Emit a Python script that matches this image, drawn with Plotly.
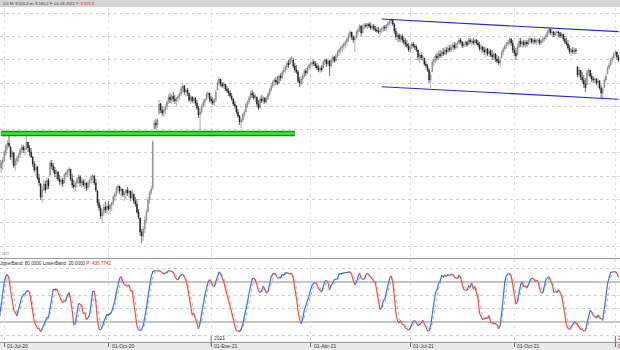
import plotly.graph_objects as go
import pandas as pd

# ---------------- data ----------------
holidays = ['2020-12-25', '2021-01-01', '2021-04-02', '2021-04-05', '2021-12-24', '2021-12-31']
dates = [d.strftime('%Y-%m-%d') for d in pd.bdate_range('2020-06-26', '2022-01-05')
         if d.strftime('%Y-%m-%d') not in holidays]

open_ = [
    7409, 7306, 7371, 7409, 7499, 7590, 7628, 7577, 7448, 7499,
    7345, 7396, 7435, 7474, 7538, 7577, 7538, 7564, 7641, 7564,
    7512, 7448, 7358, 7280, 7319, 7177, 7100, 6933, 7023, 7100,
    7036, 7152, 7216, 7371, 7332, 7280, 7229, 7255, 7165, 7126,
    7152, 7113, 7216, 7242, 7268, 7293, 7165, 7087, 7061, 7113,
    7165, 7190, 7113, 7139, 7087, 7113, 7049, 7113, 7152, 7190,
    7203, 7113, 7010, 6855, 6791, 6688, 6739, 6804, 6765, 6817,
    6778, 6830, 6855, 6933, 6971, 7049, 7074, 7010, 7036, 6958,
    6984, 7023, 6984, 7010, 6920, 6971, 6881, 6843, 6739, 6662,
    6482, 6430, 6521, 6636, 6739, 6894, 6984, 7049, 7821, 7886,
    7860, 8015, 8130, 8053, 8015, 8053, 8092, 8156, 8221, 8182,
    8234, 8195, 8169, 8208, 8234, 8259, 8324, 8362, 8285, 8311,
    8272, 8182, 8221, 8169, 8208, 8143, 8079, 7989, 8027, 8105,
    8156, 8182, 8246, 8272, 8195, 8169, 8143, 8182, 8311, 8401,
    8452, 8388, 8362, 8388, 8324, 8298, 8272, 8234, 8195, 8130,
    8105, 8027, 7976, 7899, 7924, 7989, 8027, 8118, 8156, 8208,
    8272, 8246, 8208, 8221, 8130, 8079, 8195, 8169, 8208, 8156,
    8195, 8259, 8311, 8362, 8414, 8440, 8414, 8401, 8491, 8465,
    8543, 8568, 8607, 8659, 8646, 8710, 8697, 8620, 8568, 8543,
    8427, 8401, 8452, 8491, 8556, 8530, 8594, 8633, 8646, 8671,
    8646, 8620, 8594, 8568, 8594, 8594, 8671, 8697, 8646, 8684,
    8620, 8697, 8736, 8684, 8749, 8800, 8826, 8852, 8878, 8903,
    8929, 8968, 9019, 9058, 8994, 8955, 8981, 9058, 9084, 9135,
    9045, 9122, 9148, 9135, 9161, 9135, 9109, 9135, 9097, 9084,
    9071, 9058, 9084, 9097, 9122, 9109, 9148, 9174, 9200, 9212,
    9161, 9071, 8994, 9019, 8968, 9006, 8955, 8929, 8903, 8878,
    8826, 8865, 8903, 8878, 8865, 8826, 8736, 8762, 8723, 8723,
    8646, 8620, 8568, 8440, 8543, 8671, 8697, 8749, 8723, 8775,
    8749, 8800, 8775, 8826, 8800, 8852, 8826, 8865, 8890, 8852,
    8903, 8916, 8955, 8929, 8878, 8903, 8929, 8890, 8955, 8929,
    8942, 8916, 8955, 8916, 8890, 8839, 8865, 8826, 8800, 8839,
    8775, 8813, 8762, 8736, 8775, 8710, 8684, 8659, 8723, 8800,
    8839, 8878, 8903, 8929, 8968, 8916, 8826, 8787, 8762, 8865,
    8942, 8903, 8929, 8890, 8929, 8903, 8955, 8968, 8929, 8955,
    8929, 8942, 8955, 8916, 8942, 8968, 8981, 9019, 9058, 9097,
    9045, 9058, 9019, 9045, 9058, 9045, 9006, 9032, 8968, 8929,
    8903, 8852, 8800, 8826, 8800, 8826, 8607, 8504, 8568, 8478,
    8440, 8388, 8375, 8543, 8568, 8491, 8452, 8440, 8452, 8401,
    8427, 8337, 8272, 8337, 8440, 8517, 8594, 8633, 8697, 8723,
    8775, 8800, 8736,
]
high = [
    7435, 7409, 7448, 7538, 7615, 7667, 7744, 7590, 7538, 7512,
    7435, 7461, 7499, 7564, 7602, 7602, 7590, 7744, 7641, 7602,
    7564, 7461, 7396, 7358, 7332, 7229, 7113, 7074, 7152, 7139,
    7190, 7177, 7409, 7409, 7371, 7319, 7293, 7268, 7216, 7190,
    7177, 7242, 7268, 7293, 7319, 7293, 7229, 7152, 7139, 7190,
    7229, 7216, 7190, 7165, 7165, 7126, 7139, 7165, 7216, 7229,
    7216, 7165, 7023, 6907, 6830, 6778, 6843, 6868, 6843, 6881,
    6843, 6868, 6958, 6997, 7074, 7100, 7074, 7061, 7036, 7010,
    7036, 7061, 7036, 7010, 7036, 6971, 6933, 6907, 6778, 6675,
    6521, 6559, 6688, 6778, 6933, 7010, 7074, 7667, 7924, 7937,
    7950, 8182, 8143, 8105, 8092, 8130, 8182, 8259, 8272, 8259,
    8285, 8246, 8221, 8259, 8285, 8362, 8388, 8375, 8337, 8337,
    8272, 8246, 8234, 8221, 8221, 8182, 8105, 8079, 8130, 8195,
    8208, 8285, 8298, 8272, 8234, 8221, 8208, 8311, 8440, 8478,
    8452, 8414, 8414, 8388, 8362, 8337, 8311, 8272, 8208, 8169,
    8118, 8066, 7989, 7950, 8015, 8053, 8143, 8182, 8234, 8298,
    8311, 8285, 8259, 8221, 8182, 8234, 8246, 8234, 8221, 8234,
    8285, 8337, 8388, 8440, 8465, 8478, 8491, 8517, 8530, 8568,
    8607, 8633, 8684, 8697, 8736, 8749, 8723, 8659, 8633, 8568,
    8478, 8491, 8517, 8581, 8594, 8620, 8659, 8671, 8697, 8697,
    8684, 8659, 8633, 8620, 8633, 8697, 8723, 8710, 8723, 8697,
    8723, 8762, 8749, 8775, 8826, 8852, 8878, 8903, 8929, 8955,
    8994, 9045, 9084, 9058, 9019, 9006, 9084, 9109, 9161, 9148,
    9161, 9174, 9174, 9174, 9187, 9174, 9161, 9161, 9135, 9122,
    9122, 9109, 9122, 9148, 9148, 9161, 9187, 9225, 9238, 9225,
    9174, 9109, 9058, 9045, 9032, 9032, 8994, 8981, 8955, 8916,
    8903, 8929, 8929, 8903, 8890, 8826, 8787, 8800, 8775, 8723,
    8684, 8646, 8594, 8543, 8697, 8736, 8775, 8787, 8813, 8826,
    8826, 8852, 8865, 8865, 8890, 8890, 8903, 8916, 8929, 8929,
    8942, 8981, 8981, 8942, 8929, 8955, 8942, 8981, 8981, 8968,
    8981, 8981, 8968, 8955, 8929, 8903, 8878, 8865, 8865, 8852,
    8852, 8839, 8826, 8800, 8787, 8762, 8749, 8736, 8826, 8865,
    8903, 8929, 8955, 8994, 8981, 8955, 8878, 8852, 8903, 8981,
    8981, 8955, 8955, 8955, 8955, 8981, 8994, 8981, 8968, 8981,
    8968, 8981, 8981, 8968, 8994, 9006, 9045, 9084, 9122, 9097,
    9084, 9071, 9071, 9084, 9071, 9058, 9058, 9032, 9006, 8981,
    8955, 8890, 8852, 8865, 8852, 8852, 8620, 8607, 8568, 8543,
    8504, 8465, 8568, 8594, 8568, 8530, 8491, 8478, 8465, 8465,
    8440, 8375, 8349, 8465, 8517, 8620, 8659, 8723, 8749, 8800,
    8826, 8800, 8762,
]
low = [
    7255, 7242, 7280, 7383, 7461, 7538, 7564, 7409, 7358, 7306,
    7268, 7345, 7383, 7435, 7499, 7499, 7474, 7538, 7512, 7461,
    7435, 7319, 7255, 7203, 7152, 7074, 6894, 6855, 7010, 6984,
    7023, 7036, 7203, 7293, 7242, 7190, 7165, 7139, 7087, 7074,
    7061, 7113, 7165, 7190, 7203, 7139, 7049, 7036, 7010, 7061,
    7100, 7074, 7049, 7061, 7036, 7010, 7023, 7061, 7100, 7113,
    7087, 6997, 6817, 6752, 6649, 6598, 6688, 6727, 6714, 6752,
    6714, 6752, 6817, 6881, 6946, 6984, 6971, 6946, 6933, 6881,
    6907, 6946, 6920, 6881, 6907, 6843, 6804, 6714, 6649, 6430,
    6340, 6366, 6469, 6598, 6739, 6843, 6958, 7023, 7796, 7808,
    7821, 7989, 8015, 7976, 7963, 8002, 8053, 8130, 8143, 8130,
    8156, 8130, 8105, 8156, 8182, 8234, 8272, 8246, 8221, 8234,
    8156, 8130, 8143, 8130, 8105, 8053, 7950, 7796, 8002, 8079,
    8105, 8182, 8208, 8156, 8130, 8118, 8105, 8156, 8311, 8362,
    8349, 8337, 8324, 8298, 8272, 8234, 8208, 8169, 8105, 8066,
    8002, 7950, 7860, 7821, 7899, 7950, 8027, 8079, 8130, 8182,
    8208, 8182, 8156, 8092, 8053, 8079, 8143, 8130, 8130, 8143,
    8182, 8234, 8285, 8337, 8362, 8375, 8375, 8388, 8427, 8452,
    8504, 8530, 8568, 8594, 8646, 8659, 8594, 8530, 8517, 8401,
    8349, 8362, 8388, 8465, 8491, 8517, 8568, 8581, 8607, 8620,
    8594, 8568, 8543, 8530, 8543, 8594, 8633, 8607, 8620, 8491,
    8594, 8659, 8659, 8671, 8723, 8749, 8775, 8800, 8826, 8852,
    8878, 8929, 8981, 8955, 8916, 8800, 8981, 9006, 9058, 9006,
    9045, 9097, 9109, 9097, 9109, 9084, 9084, 9071, 9058, 9045,
    9032, 9019, 9045, 9058, 9071, 9071, 9109, 9135, 9161, 9135,
    9032, 8955, 8929, 8929, 8929, 8916, 8890, 8865, 8852, 8800,
    8787, 8839, 8852, 8826, 8800, 8697, 8659, 8697, 8684, 8620,
    8594, 8543, 8401, 8337, 8543, 8620, 8659, 8684, 8697, 8723,
    8723, 8749, 8762, 8762, 8787, 8800, 8800, 8826, 8826, 8839,
    8852, 8890, 8903, 8852, 8852, 8865, 8865, 8890, 8903, 8878,
    8890, 8878, 8890, 8865, 8813, 8800, 8787, 8762, 8736, 8749,
    8736, 8736, 8697, 8697, 8671, 8659, 8633, 8607, 8723, 8762,
    8813, 8839, 8865, 8890, 8878, 8787, 8749, 8697, 8762, 8852,
    8865, 8852, 8865, 8852, 8865, 8890, 8916, 8903, 8890, 8903,
    8890, 8903, 8890, 8890, 8916, 8929, 8955, 8994, 9032, 9019,
    8994, 8994, 9006, 9006, 8994, 8981, 8981, 8942, 8903, 8878,
    8826, 8775, 8749, 8775, 8762, 8775, 8478, 8465, 8440, 8401,
    8337, 8285, 8375, 8491, 8465, 8414, 8401, 8401, 8375, 8337,
    8311, 8208, 8182, 8337, 8414, 8517, 8568, 8620, 8659, 8723,
    8749, 8697, 8671,
]
close = [
    7306, 7371, 7409, 7512, 7590, 7628, 7590, 7448, 7512, 7332,
    7396, 7435, 7474, 7538, 7577, 7538, 7564, 7641, 7564, 7512,
    7448, 7358, 7280, 7319, 7177, 7113, 6933, 7023, 7100, 7023,
    7152, 7074, 7371, 7332, 7280, 7229, 7255, 7165, 7126, 7152,
    7100, 7216, 7242, 7268, 7293, 7165, 7087, 7061, 7113, 7165,
    7190, 7113, 7139, 7087, 7113, 7049, 7113, 7152, 7190, 7203,
    7113, 7023, 6855, 6791, 6688, 6739, 6804, 6765, 6817, 6778,
    6830, 6855, 6933, 6971, 7049, 7074, 7010, 7036, 6958, 6984,
    7023, 6984, 7010, 6920, 6997, 6881, 6843, 6739, 6675, 6482,
    6430, 6521, 6636, 6739, 6894, 6984, 7036, 7641, 7886, 7860,
    7924, 8130, 8053, 8015, 8053, 8092, 8156, 8221, 8182, 8234,
    8195, 8169, 8208, 8234, 8259, 8324, 8362, 8285, 8311, 8272,
    8182, 8221, 8169, 8208, 8143, 8079, 7989, 8027, 8105, 8156,
    8182, 8246, 8272, 8195, 8169, 8143, 8182, 8285, 8401, 8452,
    8388, 8362, 8388, 8324, 8298, 8272, 8234, 8195, 8130, 8105,
    8027, 7976, 7899, 7924, 7989, 8027, 8118, 8156, 8208, 8272,
    8246, 8208, 8234, 8130, 8079, 8195, 8169, 8208, 8156, 8195,
    8259, 8311, 8362, 8414, 8440, 8414, 8401, 8491, 8465, 8543,
    8568, 8607, 8659, 8633, 8710, 8723, 8620, 8568, 8543, 8427,
    8401, 8452, 8491, 8556, 8530, 8594, 8633, 8646, 8671, 8646,
    8620, 8594, 8568, 8594, 8568, 8671, 8697, 8646, 8684, 8620,
    8697, 8736, 8684, 8749, 8800, 8826, 8852, 8878, 8903, 8929,
    8968, 9019, 9058, 8994, 8955, 8981, 9058, 9084, 9135, 9045,
    9122, 9148, 9135, 9161, 9135, 9109, 9135, 9097, 9084, 9071,
    9058, 9084, 9097, 9122, 9109, 9148, 9174, 9200, 9212, 9161,
    9071, 8994, 9019, 8968, 9006, 8955, 8929, 8903, 8878, 8826,
    8865, 8903, 8878, 8865, 8826, 8736, 8762, 8723, 8749, 8646,
    8620, 8568, 8440, 8504, 8671, 8697, 8749, 8723, 8775, 8749,
    8800, 8775, 8826, 8800, 8852, 8826, 8865, 8890, 8852, 8903,
    8916, 8955, 8929, 8878, 8903, 8929, 8890, 8955, 8929, 8942,
    8916, 8955, 8916, 8890, 8839, 8865, 8826, 8800, 8839, 8775,
    8813, 8762, 8736, 8775, 8710, 8684, 8659, 8697, 8800, 8839,
    8878, 8903, 8929, 8968, 8916, 8826, 8787, 8749, 8865, 8942,
    8903, 8929, 8890, 8929, 8903, 8955, 8968, 8929, 8955, 8929,
    8942, 8955, 8916, 8942, 8968, 8981, 9019, 9058, 9097, 9045,
    9058, 9019, 9045, 9058, 9045, 9006, 9032, 8968, 8929, 8903,
    8852, 8800, 8826, 8800, 8826, 8813, 8504, 8568, 8478, 8440,
    8388, 8337, 8543, 8568, 8491, 8452, 8440, 8452, 8401, 8427,
    8337, 8272, 8324, 8440, 8491, 8594, 8633, 8697, 8723, 8775,
    8800, 8736, 8697,
]

tick_dates = ['2020-07-01', '2020-10-01', '2021-01-04', '2021-04-01', '2021-07-01', '2021-10-01', '2022-01-03']
tick_labels = ['01-Jul-20', '01-Oct-20', '01-Ene-21', '01-Abr-21', '01-Jul-21', '01-Oct-21', '01-Ene-22']
year_dates = ['2021-01-04', '2022-01-03']
year_labels = ['2021', '2022']

support = {'start': '2020-06-29', 'end': '2021-03-18', 'level': 7750}
channel_upper = {'start': '2021-06-07', 'end': '2022-01-05', 'v0': 9225, 'v1': 9063}
channel_lower = {'start': '2021-06-07', 'end': '2022-01-05', 'v0': 8353, 'v1': 8192}

stoch_period, stoch_slow, stoch_d = 14, 3, 3
upper_band, lower_band = 80, 20

header_text = '0,0 M: 8.510,3 m: 8.180,2 F: 01-03-2022 '
header_price = 'P: 8.876,8'
ind_text = 'UpperBand: 80,0000 LowerBand: 20,0000 '
ind_value = 'P: 436,7742'

# ---------------- derived ----------------
n = min(len(dates), len(close), len(open_), len(high), len(low))
dates = dates[:n]
idx = {d: i for i, d in enumerate(dates)}
xs = list(range(n))

s_h = pd.Series(high[:n]); s_l = pd.Series(low[:n]); s_c = pd.Series(close[:n])
hh = s_h.rolling(stoch_period, min_periods=1).max()
ll = s_l.rolling(stoch_period, min_periods=1).min()
fast = 100 * (s_c - ll) / (hh - ll)
k = fast.rolling(stoch_slow, min_periods=1).mean()
dline = k.rolling(stoch_d, min_periods=1).mean()
up = (k >= dline).tolist()


def colored_runs(xv, yv, flags):
    out = {True: ([], []), False: ([], [])}
    i = 1
    while i < len(yv):
        c = flags[i]
        j = i
        while j + 1 < len(yv) and flags[j + 1] == c:
            j += 1
        ox, oy = out[c]
        ox.extend(list(xv[i - 1:j + 1]) + [None])
        oy.extend(list(yv[i - 1:j + 1]) + [None])
        i = j + 1
    return out


kr = colored_runs(xs, k.tolist(), up)
dr = colored_runs(xs, dline.tolist(), up)

BLUE = '#3b74d4'
RED = '#e8524c'

fig = go.Figure()
fig.add_trace(go.Candlestick(
    x=xs, open=open_[:n], high=high[:n], low=low[:n], close=close[:n],
    increasing=dict(line=dict(color='#7a7a7a', width=0.6), fillcolor='#9a9a9a'),
    decreasing=dict(line=dict(color='#111111', width=0.6), fillcolor='#111111'),
    whiskerwidth=0, xaxis='x', yaxis='y', showlegend=False, hoverinfo='skip'))

fig.add_trace(go.Scatter(x=dr[True][0], y=dr[True][1], mode='lines', xaxis='x2', yaxis='y2',
                         line=dict(color='#8fb2ea', width=1, dash='dot'), showlegend=False))
fig.add_trace(go.Scatter(x=dr[False][0], y=dr[False][1], mode='lines', xaxis='x2', yaxis='y2',
                         line=dict(color='#f29a96', width=1, dash='dot'), showlegend=False))
fig.add_trace(go.Scatter(x=kr[True][0], y=kr[True][1], mode='lines', xaxis='x2', yaxis='y2',
                         line=dict(color=BLUE, width=1.2), showlegend=False))
fig.add_trace(go.Scatter(x=kr[False][0], y=kr[False][1], mode='lines', xaxis='x2', yaxis='y2',
                         line=dict(color=RED, width=1.2), showlegend=False))

H = 350.0
def py(px):
    return (H - px) / H

price_dom = [py(258.5), py(8)]
ind_dom = [py(341.5), py(258.5)]
xr = [0.277, 392.93]
tickvals = [idx[d] for d in tick_dates if d in idx]

shapes = [
    dict(type='rect', xref='paper', yref='paper', x0=0, x1=1, y0=py(7), y1=1,
         fillcolor='#d5d5d5', line=dict(width=0), layer='below'),
    dict(type='rect', xref='paper', yref='paper', x0=0, x1=1, y0=0, y1=ind_dom[0],
         fillcolor='#e9e9e9', line=dict(width=0), layer='below'),
    dict(type='line', xref='paper', yref='paper', x0=0, x1=1, y0=price_dom[0], y1=price_dom[0],
         line=dict(color='#9a9a9a', width=1)),
    dict(type='line', xref='x2', yref='y2', x0=xr[0], x1=xr[1], y0=upper_band, y1=upper_band,
         line=dict(color='#8c8c8c', width=1), layer='below'),
    dict(type='line', xref='x2', yref='y2', x0=xr[0], x1=xr[1], y0=lower_band, y1=lower_band,
         line=dict(color='#8c8c8c', width=1), layer='below'),
    # support line (green)
    dict(type='line', xref='x', yref='y', x0=idx[support['start']], x1=idx[support['end']],
         y0=support['level'], y1=support['level'], line=dict(color='#138a13', width=5.5)),
    dict(type='line', xref='x', yref='y', x0=idx[support['start']], x1=idx[support['end']],
         y0=support['level'], y1=support['level'], line=dict(color='#2fe02f', width=3)),
]
for ch in (channel_upper, channel_lower):
    shapes.append(dict(type='line', xref='x', yref='y', x0=idx[ch['start']], x1=idx[ch['end']],
                       y0=ch['v0'], y1=ch['v1'], line=dict(color='#2424e8', width=1.2)))
for d in year_dates:
    if d in idx:
        shapes.append(dict(type='line', xref='x2', yref='paper', x0=idx[d], x1=idx[d],
                           y0=py(346), y1=py(336), line=dict(color='#777777', width=1)))

FONT = 'Liberation Sans, Arial, sans-serif'
annotations = [
    dict(xref='paper', yref='paper', x=1 / 620, y=py(3.6), xanchor='left', yanchor='middle',
         text=header_text + '<span style="color:#e82020">' + header_price + '</span>',
         showarrow=False, font=dict(family=FONT, size=4.0, color='#333333')),
    dict(xref='paper', yref='paper', x=-3.4 / 620, y=py(263.3), xanchor='left', yanchor='middle',
         text=ind_text + '<span style="color:#e82020">' + ind_value + '</span>',
         showarrow=False, font=dict(family=FONT, size=4.6, color='#333333')),
    dict(xref='paper', yref='paper', x=-0.5 / 620, y=py(252.5), xanchor='left', yanchor='middle',
         text='om', showarrow=False, font=dict(family=FONT, size=5, color='#7f8fb0')),
]
for d, lab in zip(tick_dates, tick_labels):
    if d in idx:
        annotations.append(dict(xref='x2', yref='paper', x=idx[d], y=py(346.2), xanchor='left',
                                yanchor='middle', xshift=1, text=lab, showarrow=False,
                                font=dict(family=FONT, size=5, color='#333333')))
for d, lab in zip(year_dates, year_labels):
    if d in idx:
        annotations.append(dict(xref='x2', yref='paper', x=idx[d], y=py(337.8), xanchor='left',
                                yanchor='middle', xshift=1, text=lab, showarrow=False,
                                font=dict(family=FONT, size=5, color='#333333')))

fig.update_layout(
    width=620, height=350, margin=dict(l=0, r=0, t=0, b=0),
    paper_bgcolor='white', plot_bgcolor='white', showlegend=False,
    xaxis=dict(domain=[0, 1], range=xr, anchor='y', rangeslider=dict(visible=False),
               tickvals=tickvals, showticklabels=False, ticks='', showgrid=True,
               gridcolor='#e2e2e2', griddash='dot', gridwidth=1, zeroline=False, showline=False),
    yaxis=dict(domain=price_dom, range=[6140.5, 9367], anchor='x', showticklabels=False,
               tick0=6300, dtick=300, showgrid=True, gridcolor='#cfcfcf', griddash='dot',
               zeroline=False, ticks=''),
    xaxis2=dict(domain=[0, 1], range=xr, anchor='y2', tickvals=tickvals, showticklabels=False,
                ticks='outside', ticklen=4, tickcolor='#777777', showgrid=True,
                gridcolor='#e2e2e2', griddash='dot', zeroline=False, showline=True,
                linecolor='#999999', linewidth=1),
    yaxis2=dict(domain=ind_dom, range=[-9.3, 115.3], anchor='x2', showticklabels=False,
                tickvals=[0, 40, 60, 100], showgrid=True, gridcolor='#cfcfcf', griddash='dot',
                zeroline=False, ticks=''),
    shapes=shapes, annotations=annotations,
)

fig.write_html('out.html')
